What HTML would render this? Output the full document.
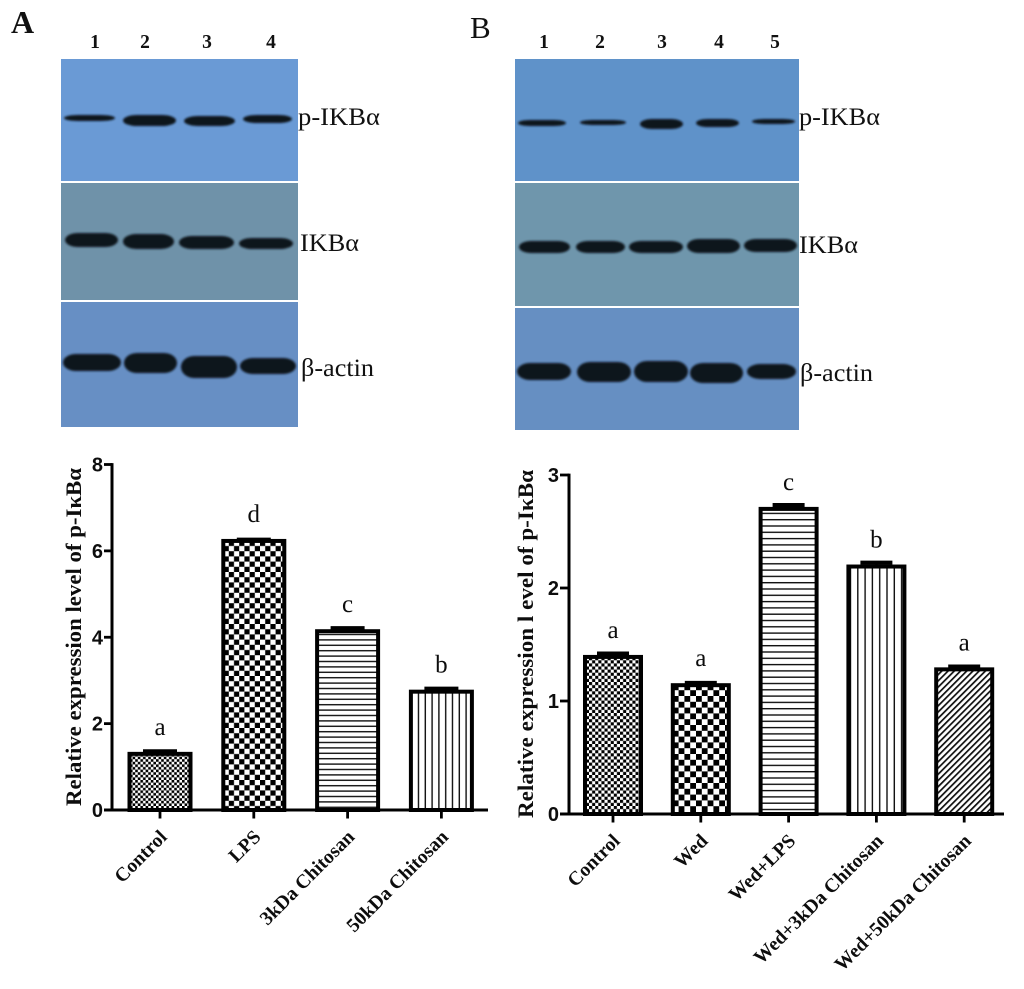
<!DOCTYPE html>
<html lang="en">
<head>
<meta charset="utf-8">
<title>p-IKBα western blots and relative expression</title>
<style>
html,body{margin:0;padding:0;background:#fff;}
svg{display:block;}
text{font-family:"Liberation Serif","DejaVu Serif",serif;fill:#111;}
.lane{font-weight:bold;font-size:19.5px;text-anchor:middle;}
.prot{font-size:25px;}
.band{fill:#10171e;filter:url(#band-blur);}
.tick-y{font-family:"Liberation Sans","DejaVu Sans",sans-serif;font-weight:bold;font-size:20px;text-anchor:end;}
.tick-x{font-weight:bold;font-size:19.6px;text-anchor:end;}
.letter{font-size:25px;text-anchor:middle;}
.ytitle{font-weight:bold;font-size:22px;}
</style>
</head>
<body>
<svg id="fig" xmlns="http://www.w3.org/2000/svg" width="1024" height="989" viewBox="0 0 1024 989">
<defs>
<filter id="band-blur" x="-20%" y="-80%" width="140%" height="260%"><feGaussianBlur stdDeviation="1"/></filter>
<filter id="soft" x="-2%" y="-2%" width="104%" height="104%"><feGaussianBlur stdDeviation="0.3"/></filter>
<pattern id="p-check-fine-a" width="5.2" height="5.2" patternUnits="userSpaceOnUse"><rect width="5.2" height="5.2" fill="#fff"/><rect width="2.6" height="2.6" fill="#000"/><rect x="2.6" y="2.6" width="2.6" height="2.6" fill="#000"/></pattern>
<pattern id="p-check-a" width="10.4" height="10.4" patternUnits="userSpaceOnUse"><rect width="10.4" height="10.4" fill="#fff"/><rect width="5.2" height="5.2" fill="#000"/><rect x="5.2" y="5.2" width="5.2" height="5.2" fill="#000"/></pattern>
<pattern id="p-hlines-a" width="10" height="5.4" patternUnits="userSpaceOnUse"><rect width="10" height="5.4" fill="#fff"/><rect y="2" width="10" height="1.4" fill="#111"/></pattern>
<pattern id="p-vlines-a" width="6.8" height="10" patternUnits="userSpaceOnUse"><rect width="6.8" height="10" fill="#fff"/><rect x="3" width="1.4" height="10" fill="#111"/></pattern>
<pattern id="p-check-fine-b" width="6.2" height="6.2" patternUnits="userSpaceOnUse"><rect width="6.2" height="6.2" fill="#fff"/><rect width="3.1" height="3.1" fill="#000"/><rect x="3.1" y="3.1" width="3.1" height="3.1" fill="#000"/></pattern>
<pattern id="p-check-b" width="11.6" height="11.6" patternUnits="userSpaceOnUse"><rect width="11.6" height="11.6" fill="#fff"/><rect width="5.8" height="5.8" fill="#000"/><rect x="5.8" y="5.8" width="5.8" height="5.8" fill="#000"/></pattern>
<pattern id="p-hlines-b" width="10" height="6.3" patternUnits="userSpaceOnUse"><rect width="10" height="6.3" fill="#fff"/><rect y="2.4" width="10" height="1.4" fill="#111"/></pattern>
<pattern id="p-vlines-b" width="7.3" height="10" patternUnits="userSpaceOnUse"><rect width="7.3" height="10" fill="#fff"/><rect x="3" width="1.4" height="10" fill="#111"/></pattern>
<pattern id="p-hatch-b" width="4.4" height="4.4" patternUnits="userSpaceOnUse" patternTransform="rotate(-45)"><rect width="4.4" height="4.4" fill="#fff"/><rect width="4.4" height="1.7" fill="#111"/></pattern>
</defs>

<text x="11" y="33" font-size="32" font-weight="bold">A</text>
<text x="470" y="38" font-size="31">B</text>

<g>
<g class="laneset">
<text class="lane" x="95" y="48">1</text>
<text class="lane" x="145" y="48">2</text>
<text class="lane" x="207" y="48">3</text>
<text class="lane" x="271" y="48">4</text>
</g>
<rect x="61" y="59" width="237" height="122" fill="#6a9ad5"/>
<rect x="61" y="183" width="237" height="117" fill="#6f92a9"/>
<rect x="61" y="302" width="237" height="125" fill="#678fc4"/>
<g>
<rect class="band" x="64" y="115" width="51" height="6" rx="14" ry="3"/>
<rect class="band" x="123" y="115" width="53" height="11" rx="14" ry="5.5"/>
<rect class="band" x="184" y="116" width="51" height="10" rx="14" ry="5"/>
<rect class="band" x="243" y="115" width="49" height="8" rx="14" ry="4"/>
</g>
<g>
<rect class="band" x="65" y="233" width="53" height="14" rx="13" ry="7"/>
<rect class="band" x="123" y="234" width="51" height="15" rx="13" ry="7.5"/>
<rect class="band" x="179" y="236" width="55" height="13" rx="13" ry="6.5"/>
<rect class="band" x="239" y="238" width="54" height="11" rx="13" ry="5.5"/>
</g>
<g>
<rect class="band" x="63" y="354" width="58" height="17" rx="13" ry="8.5"/>
<rect class="band" x="124" y="353" width="53" height="20" rx="13" ry="10"/>
<rect class="band" x="181" y="356" width="56" height="22" rx="13" ry="11"/>
<rect class="band" x="240" y="358" width="56" height="16" rx="13" ry="8"/>
</g>
<text class="prot" x="298" y="125" textLength="82" lengthAdjust="spacingAndGlyphs">p-IKBα</text>
<text class="prot" x="300" y="251" textLength="59" lengthAdjust="spacingAndGlyphs">IKBα</text>
<text class="prot" x="301" y="376" textLength="73" lengthAdjust="spacingAndGlyphs">β-actin</text>
</g>

<g>
<g>
<text class="lane" x="544" y="48">1</text>
<text class="lane" x="600" y="48">2</text>
<text class="lane" x="662" y="48">3</text>
<text class="lane" x="719" y="48">4</text>
<text class="lane" x="775" y="48">5</text>
</g>
<rect x="515" y="59" width="284" height="122" fill="#5f92c9"/>
<rect x="515" y="183" width="284" height="123" fill="#6f96ac"/>
<rect x="515" y="308" width="284" height="122" fill="#668fc2"/>
<g>
<rect class="band" x="518" y="120" width="48" height="6" rx="12" ry="3"/>
<rect class="band" x="580" y="120" width="46" height="5" rx="12" ry="2.5"/>
<rect class="band" x="640" y="119" width="43" height="10" rx="12" ry="5"/>
<rect class="band" x="696" y="119" width="43" height="8" rx="12" ry="4"/>
<rect class="band" x="752" y="119" width="43" height="5" rx="12" ry="2.5"/>
</g>
<g>
<rect class="band" x="519" y="241" width="51" height="12" rx="12" ry="6"/>
<rect class="band" x="576" y="241" width="49" height="12" rx="12" ry="6"/>
<rect class="band" x="629" y="241" width="54" height="12" rx="12" ry="6"/>
<rect class="band" x="687" y="239" width="53" height="14" rx="12" ry="7"/>
<rect class="band" x="744" y="239" width="53" height="13" rx="12" ry="6.5"/>
</g>
<g>
<rect class="band" x="517" y="363" width="54" height="17" rx="13" ry="8.5"/>
<rect class="band" x="577" y="362" width="54" height="20" rx="13" ry="10"/>
<rect class="band" x="634" y="361" width="54" height="21" rx="13" ry="10.5"/>
<rect class="band" x="690" y="363" width="53" height="20" rx="13" ry="10"/>
<rect class="band" x="747" y="364" width="49" height="15" rx="13" ry="7.5"/>
</g>
<text class="prot" x="799" y="125" textLength="81" lengthAdjust="spacingAndGlyphs">p-IKBα</text>
<text class="prot" x="799" y="253" textLength="59" lengthAdjust="spacingAndGlyphs">IKBα</text>
<text class="prot" x="800" y="381" textLength="73" lengthAdjust="spacingAndGlyphs">β-actin</text>
</g>

<g id="chart-a" filter="url(#soft)"></g>
<g id="chart-b" filter="url(#soft)"></g>
</svg>

<script>
// Chart A values
const categoriesA = ["Control", "LPS", "3kDa Chitosan", "50kDa Chitosan"];
const valuesA = [1.30, 6.23, 4.14, 2.74];
const errorsA = [0.06, 0.03, 0.07, 0.07];
const lettersA = ["a", "d", "c", "b"];
const ticksA = [0, 2, 4, 6, 8];

// Chart B values
const categoriesB = ["Control", "Wed", "Wed+LPS", "Wed+3kDa Chitosan", "Wed+50kDa Chitosan"];
const valuesB = [1.39, 1.14, 2.70, 2.19, 1.28];
const errorsB = [0.03, 0.02, 0.035, 0.035, 0.025];
const lettersB = ["a", "a", "c", "b", "a"];
const ticksB = [0, 1, 2, 3];

const NS = "http://www.w3.org/2000/svg";

function make(parent, tag, attrs, text) {
  const el = document.createElementNS(NS, tag);
  for (const k in attrs) el.setAttribute(k, attrs[k]);
  if (text !== undefined) el.textContent = text;
  parent.appendChild(el);
  return el;
}

function drawChart(root, cfg, categories, values, errors, letters, ticks) {
  const yMax = ticks[ticks.length - 1];
  const yScale = function (v) { return cfg.y0 - (v / yMax) * (cfg.y0 - cfg.yTop); };
  const xScale = function (i) { return cfg.x0 + i * cfg.step; };

  values.forEach(function (v, i) {
    const cx = xScale(i);
    const top = yScale(v);
    const capY = yScale(v + errors[i]);

    const stem = make(root, "line", { x1: cx, x2: cx, y1: top, y2: capY, stroke: "#000", "stroke-width": 2.5 });
    
    

    const cap = make(root, "line", { x1: cx - cfg.capW / 2, x2: cx + cfg.capW / 2, y1: capY, y2: capY, stroke: "#000", "stroke-width": 4 });
    
    

    const bar = make(root, "rect", { x: cx - cfg.barW / 2, y: top, width: cfg.barW, height: cfg.y0 - top, fill: "url(#" + cfg.patterns[i] + ")", stroke: "#000", "stroke-width": 4 });
    
    

    const letter = make(root, "text", { class: "letter", x: cx, y: top - 19 }, letters[i]);
    
    

    const tick = make(root, "line", { x1: cx, x2: cx, y1: cfg.y0, y2: cfg.y0 + 8.5, stroke: "#000", "stroke-width": 2.8 });
    
    

    const lx = cx + 8;
    const ly = cfg.y0 + 28;
    const label = make(root, "text", { class: "tick-x", x: lx, y: ly, transform: "rotate(-45 " + lx + " " + ly + ")" }, categories[i]);
    
    
  });

  const xAxis = make(root, "line", { x1: cfg.axisX - cfg.tickLen, x2: cfg.xEnd, y1: cfg.y0, y2: cfg.y0, stroke: "#000", "stroke-width": 3 });
  
  

  const yAxis = make(root, "line", { x1: cfg.axisX, x2: cfg.axisX, y1: cfg.yTop - 1.4, y2: cfg.y0, stroke: "#000", "stroke-width": 3 });
  
  

  ticks.forEach(function (t) {
    const y = yScale(t);
    const tl = make(root, "line", { x1: cfg.axisX - cfg.tickLen, x2: cfg.axisX, y1: y, y2: y, stroke: "#000", "stroke-width": 2.8 });
    
    

    const lab = make(root, "text", { class: "tick-y", x: cfg.axisX - cfg.tickLen - 1, y: y + 7 }, String(t));
    
    
  });

  const title = make(root, "text", { class: "ytitle", x: cfg.titleX, y: cfg.titleY, textLength: cfg.titleLen, lengthAdjust: "spacingAndGlyphs", transform: "rotate(-90 " + cfg.titleX + " " + cfg.titleY + ")" }, cfg.title);
  
  
}

drawChart(document.getElementById("chart-a"), {
  x0: 160, step: 93.8, y0: 810, yTop: 464.5, barW: 61, capW: 34,
  axisX: 112, tickLen: 8, xEnd: 488,
  titleX: 81, titleY: 806, titleLen: 338,
  title: "Relative expression level of p-IκBα",
  patterns: ["p-check-fine-a", "p-check-a", "p-hlines-a", "p-vlines-a"]
}, categoriesA, valuesA, errorsA, lettersA, ticksA);

drawChart(document.getElementById("chart-b"), {
  x0: 613, step: 87.8, y0: 814, yTop: 475, barW: 56, capW: 32,
  axisX: 569, tickLen: 9, xEnd: 1004,
  titleX: 533, titleY: 818, titleLen: 348,
  title: "Relative expression l evel of p-IκBα",
  patterns: ["p-check-fine-b", "p-check-b", "p-hlines-b", "p-vlines-b", "p-hatch-b"]
}, categoriesB, valuesB, errorsB, lettersB, ticksB);
</script>
</body>
</html>
